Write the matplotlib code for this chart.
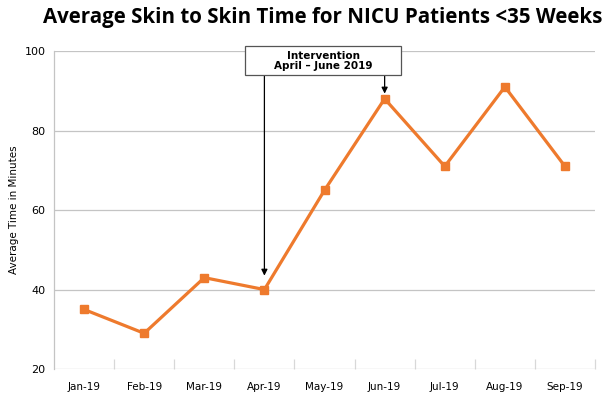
import matplotlib.pyplot as plt
from matplotlib.patches import Rectangle
import numpy as np

months = ["Jan-19", "Feb-19", "Mar-19", "Apr-19", "May-19", "Jun-19", "Jul-19", "Aug-19", "Sep-19"]
avg_minutes = [35, 29, 43, 40, 65, 88, 71, 91, 71]
y_ticks = [20, 40, 60, 80, 100]

orange = "#EE7A2D"

fig = plt.figure(figsize=(6.1, 3.96), dpi=100)
ax = fig.add_axes([0.0885, 0.068, 0.887, 0.803])

x = np.arange(len(months))
ax.plot(x, avg_minutes, color=orange, lw=2.3, marker="s", ms=5.5, zorder=3)

ax.set_xlim(-0.5, len(months) - 0.5)
ax.set_ylim(20, 100)
ax.set_yticks(y_ticks)
ax.yaxis.grid(True, color="#c4c4c4", lw=0.9)
ax.set_axisbelow(True)
ax.tick_params(axis="y", length=0, labelsize=8, pad=6)
ax.set_xticks(x)
ax.set_xticklabels(months)
ax.tick_params(axis="x", length=0, labelsize=7.5, pad=9)
# light separator ticks between categories
ax.set_xticks(np.arange(len(months)) + 0.5, minor=True)
ax.tick_params(axis="x", which="minor", direction="in", length=7, color="#d8d8d8", width=0.9)

for s in ["top", "right", "bottom"]:
    ax.spines[s].set_visible(False)
ax.spines["left"].set_color("#c4c4c4")
ax.spines["left"].set_linewidth(0.9)

ax.set_ylabel("Average Time in Minutes", fontsize=7.5)
ax.yaxis.set_label_coords(-0.064, 0.5)

fig.text(0.5295, 0.955, "Average Skin to Skin Time for NICU Patients <35 Weeks",
         ha="center", va="center", fontsize=14.8, fontweight="bold", family="Open Sans")

# intervention callout box (sits over the top gridline)
ax.add_patch(Rectangle((2.68, 93.96), 2.59, 7.3, fc="white", ec="#555555", lw=0.9,
                       clip_on=False, zorder=5))
ax.text(3.975, 97.6, "Intervention\nApril \u2013 June 2019", ha="center", va="center",
        fontsize=7.5, fontweight="bold", linespacing=1.0, zorder=6)
ax.annotate("", xy=(3, avg_minutes[3] + 3.5), xytext=(3, 93.96),
            arrowprops=dict(arrowstyle="-|>", color="black", lw=0.9, mutation_scale=9,
                            shrinkA=0, shrinkB=0), zorder=4)
ax.annotate("", xy=(5, avg_minutes[5] + 1.3), xytext=(5, 93.96),
            arrowprops=dict(arrowstyle="-|>", color="black", lw=0.9, mutation_scale=9,
                            shrinkA=0, shrinkB=0), zorder=4)

fig.savefig("out.png", dpi=100)
